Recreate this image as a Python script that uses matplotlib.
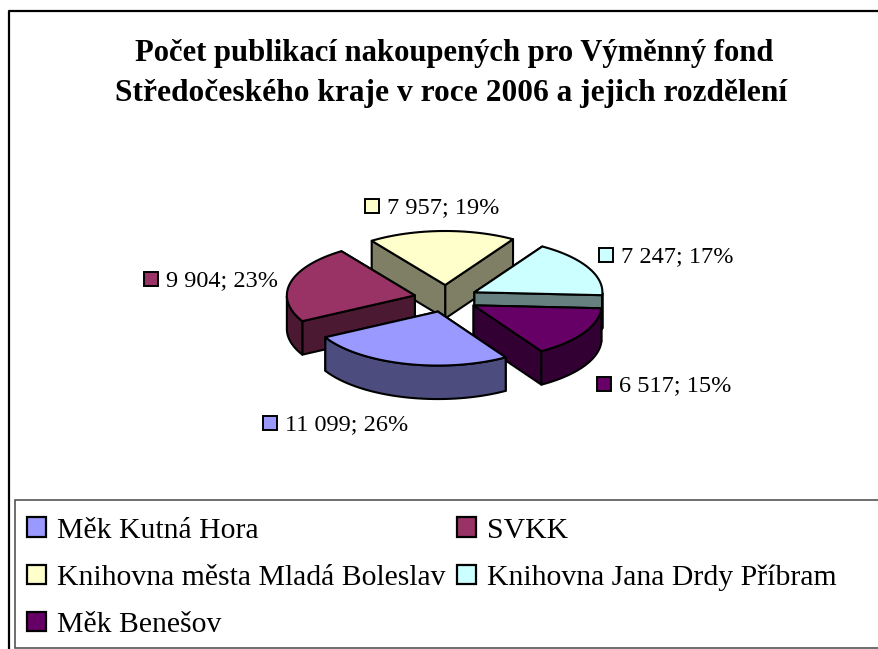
import numpy as np
import matplotlib
matplotlib.use("Agg")
import matplotlib.pyplot as plt
from matplotlib.patches import Polygon, Rectangle

# --- data ---
categories = ["Měk Kutná Hora", "SVKK", "Knihovna města Mladá Boleslav",
              "Knihovna Jana Drdy Příbram", "Měk Benešov"]
values = [11099, 9904, 7957, 7247, 6517]
title_lines = ["Počet publikací nakoupených pro Výměnný fond",
               "Středočeského kraje v roce 2006 a jejich rozdělení"]

# --- styles ---
top_colors = ["#9999FF", "#993366", "#FFFFCC", "#CCFFFF", "#660066"]
side_colors = ["#4C4C7F", "#4C1933", "#7F7F66", "#667F7F", "#330033"]
label_pos = [(263, 423), (144, 279), (365, 206), (599, 255), (597, 384)]

W, H = 879, 649
plt.rcParams["font.family"] = ["Liberation Serif", "DejaVu Serif"]
fig = plt.figure(figsize=(W / 100, H / 100), dpi=100)
ax = fig.add_axes([0, 0, 1, 1])
ax.set_xlim(0, W)
ax.set_ylim(H, 0)
ax.axis("off")

# outer frame
ax.plot([9.5, 9.5, W], [H, 10.5, 10.5], color="black", lw=1.6, zorder=1)

# title
ax.text(454.5, 53, title_lines[0], ha="center", va="center", fontsize=22.1, fontweight="bold")
ax.text(451.5, 94, title_lines[1], ha="center", va="center", fontsize=22.6, fontweight="bold")

# exploded pseudo-3D pie
cx, cy, a, b, depth, explode, start = 446, 298.5, 128, 54, 33.5, 0.25, 58
total = sum(values)
edges = start + np.concatenate([[0], np.cumsum(values)]) / total * 360
mids = (edges[:-1] + edges[1:]) / 2
order = np.argsort(np.sin(np.radians(mids)))
z = 2
for i in order:
    t0, t1, tm = edges[i], edges[i + 1], np.radians(mids[i])
    ox = cx + explode * a * np.cos(tm)
    oy = cy + explode * b * np.sin(tm)
    th = np.radians(np.linspace(t0, t1, 80))
    xs = ox + a * np.cos(th)
    ys = oy + b * np.sin(th)
    kw = dict(edgecolor="black", lw=1.5, joinstyle="round")
    for j in sorted((0, -1), key=lambda k: ys[k]):
        ax.add_patch(Polygon([(ox, oy), (xs[j], ys[j]), (xs[j], ys[j] + depth), (ox, oy + depth)],
                             facecolor=side_colors[i], zorder=z, **kw))
    vis = np.sin(th) >= 0
    if vis.any():
        vx, vy = xs[vis], ys[vis]
        pts = list(zip(vx, vy)) + list(zip(vx[::-1], vy[::-1] + depth))
        ax.add_patch(Polygon(pts, facecolor=side_colors[i], zorder=z, **kw))
    ax.add_patch(Polygon([(ox, oy)] + list(zip(xs, ys)), facecolor=top_colors[i], zorder=z, **kw))
    z += 1

# data labels
for i, (lx, ly) in enumerate(label_pos):
    ax.add_patch(Rectangle((lx, ly - 7), 14, 14, facecolor=top_colors[i], edgecolor="black", lw=1.4, zorder=20))
    txt = f"{values[i]:,}".replace(",", " ") + f"; {values[i] / total * 100:.0f}%"
    ax.text(lx + 22.5, ly + 1.5, txt, ha="left", va="center", fontsize=17.5, zorder=20)

# legend box and legend (columns filled so that the rows read as in the original)
ax.add_patch(Rectangle((15.5, 500), W, 147.5, facecolor="white", edgecolor="#555555", lw=1.2, zorder=1.5))
handles = [Rectangle((0, 0), 1, 1, facecolor=c, edgecolor="black", lw=1.6) for c in top_colors]
seq = [0, 2, 4, 1, 3]
ax.legend([handles[k] for k in seq], [categories[k] for k in seq], ncol=2, frameon=False,
          loc="upper left", bbox_to_anchor=(24 / W, 1 - 514.5 / H), bbox_transform=ax.transAxes,
          fontsize=21.4, labelspacing=0.7, handlelength=0.64, handleheight=0.64,
          handletextpad=0.37, columnspacing=0.4, borderaxespad=0, borderpad=0.1)

fig.savefig("out.png", dpi=100)
